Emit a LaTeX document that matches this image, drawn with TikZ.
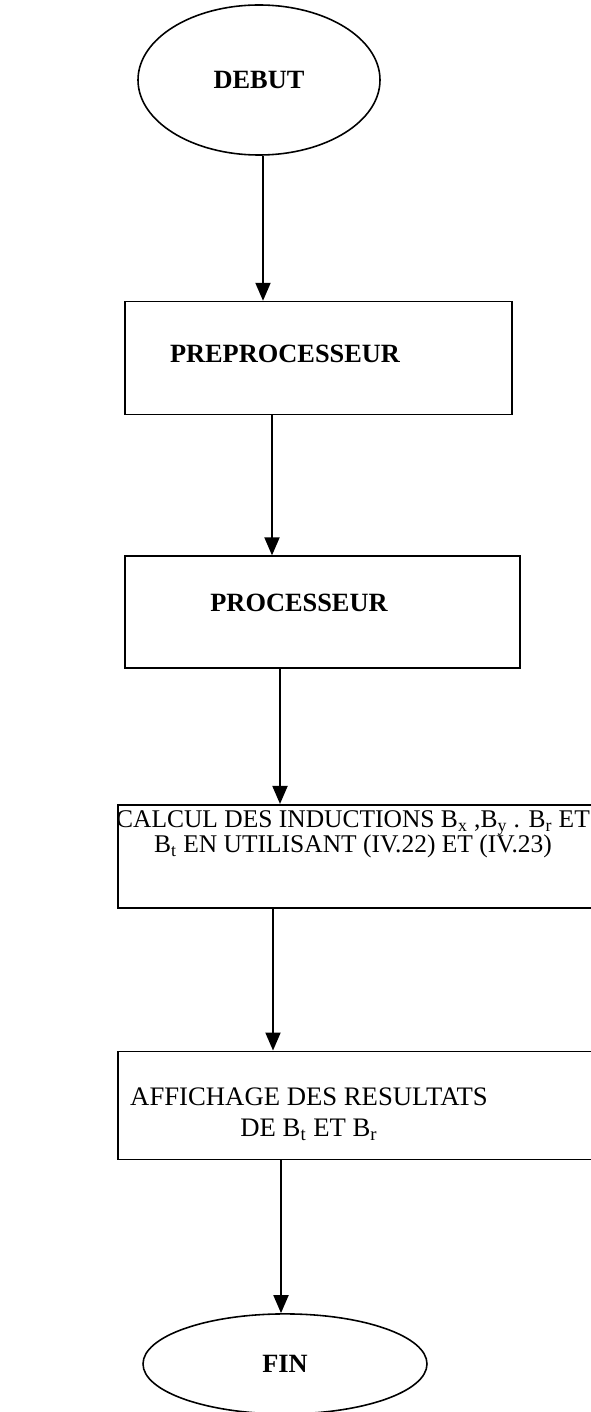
\documentclass[tikz,border=0pt]{standalone}
\usepackage{fontspec}
\setmainfont{Liberation Serif}
\usepackage{tikz}
\usetikzlibrary{shapes,arrows.meta,positioning,calc}

\begin{document}
\begin{tikzpicture}[node distance=2.8cm, auto]
  \tikzstyle{terminal} = [ellipse, draw=black, line width=0.9pt, inner sep=0pt, font=\fontsize{15}{17}\selectfont\bfseries]
  \tikzstyle{etape} = [rectangle, draw=black, line width=0.9pt, inner sep=0pt]
  \tikzstyle{titre} = [inner sep=0pt, font=\fontsize{15}{17}\selectfont\bfseries]
  \tikzstyle{texte} = [align=center, inner sep=0pt, font=\fontsize{14.5}{14.5}\selectfont]
  \tikzstyle{fleche} = [-{Triangle[length=0.36cm,width=0.3cm]}, line width=1.1pt]

  \useasboundingbox (0,0) rectangle (11.8,-28.24);

  \node [terminal, minimum width=4.84cm, minimum height=3cm] (debut) at (5.18,-1.6) {DEBUT};
  \node [etape, minimum width=7.74cm, minimum height=2.26cm, below=2.9cm of debut, xshift=1.19cm] (preproc) {};
  \node [etape, minimum width=7.9cm, minimum height=2.24cm, below=2.8cm of preproc, xshift=0.08cm] (proc) {};
  \node [etape, minimum width=9.54cm, minimum height=2.06cm, below=2.7cm of proc, xshift=0.68cm] (calcul) {};
  \node [etape, minimum width=9.54cm, minimum height=2.16cm, below=2.84cm of calcul] (affich) {};
  \node [terminal, minimum width=5.68cm, minimum height=2cm, below=3.06cm of affich, xshift=-1.43cm] (fin) {FIN};

  \node [titre] (tpreproc) at ([xshift=-0.67cm,yshift=0.09cm]preproc.center) {PREPROCESSEUR};
  \node [titre] (tproc) at ([xshift=-0.47cm,yshift=0.18cm]proc.center) {PROCESSEUR};
  \node [texte] (tcalcul) at ([xshift=-0.07cm,yshift=0.44cm]calcul.center) {CALCUL DES INDUCTIONS B\textsubscript{x} ,B\textsubscript{y} . B\textsubscript{r} ET\\B\textsubscript{t} EN UTILISANT (IV.22) ET (IV.23)};
  \node [texte, font=\fontsize{15.2}{17.5}\selectfont] (taffich) at ([xshift=-0.95cm,yshift=-0.18cm]affich.center) {AFFICHAGE DES RESULTATS\\DE B\textsubscript{t} ET B\textsubscript{r}};

  \draw [fleche] ([xshift=0.08cm]debut.south) -- ([xshift=0.08cm]debut.south |- preproc.north);
  \draw [fleche] ([xshift=-0.93cm]preproc.south) -- ([xshift=-0.93cm]preproc.south |- proc.north);
  \draw [fleche] ([xshift=-0.85cm]proc.south) -- ([xshift=-0.85cm]proc.south |- calcul.north);
  \draw [fleche] ([xshift=-1.67cm]calcul.south) -- ([xshift=-1.67cm]calcul.south |- affich.north);
  \draw [fleche] ([xshift=-1.51cm]affich.south) -- ([xshift=-1.51cm]affich.south |- fin.north);
\end{tikzpicture}
\end{document}
